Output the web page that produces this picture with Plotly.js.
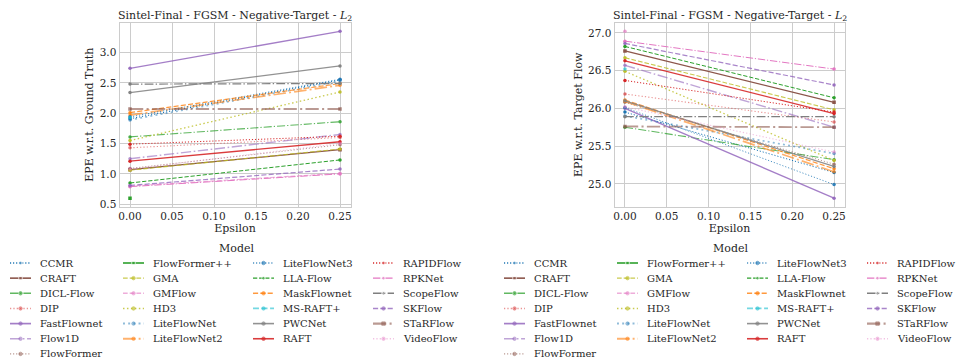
<!DOCTYPE html>
<html><head><meta charset="utf-8">
<script src="https://cdn.plot.ly/plotly-3.0.1.min.js"></script>
<style>body{margin:0;background:#fff}#chart{width:956px;height:360px}</style>
</head><body><div id="chart"></div>
<script>
// ---------------- data ----------------
const epsilon = [0, 0.25];
const models = ["CCMR","CRAFT","DICL-Flow","DIP","FastFlownet","Flow1D","FlowFormer",
  "FlowFormer++","GMA","GMFlow","HD3","LiteFlowNet","LiteFlowNet2",
  "LiteFlowNet3","LLA-Flow","MaskFlownet","MS-RAFT+","PWCNet","RAFT",
  "RAPIDFlow","RPKNet","ScopeFlow","SKFlow","STaRFlow","VideoFlow"];
// EPE w.r.t. ground truth
const gtAtEps0  = [1.91,1.07,1.61,1.43,2.74,1.25,1.09,0.60,1.06,0.80,1.55,1.89,1.97,1.94,0.85,2.01,1.93,2.34,1.21,1.49,0.79,2.48,0.81,2.07,1.08];
const gtAtEps25 = [2.55,1.40,1.86,1.60,3.35,1.65,1.48,null,1.41,1.01,2.35,2.53,2.46,2.56,1.23,2.49,null,2.78,1.53,1.62,1.00,2.49,1.08,2.07,1.50];
// EPE w.r.t. target flow
const tfAtEps0  = [25.95,26.76,25.75,26.19,26.00,26.57,26.08,null,26.67,27.02,26.49,25.90,26.09,26.01,26.82,26.11,26.52,26.10,26.63,26.37,26.89,25.89,26.86,25.76,26.02];
const tfAtEps25 = [25.15,26.08,25.32,25.82,24.81,25.75,25.26,null,25.98,null,25.31,25.40,25.16,24.99,26.14,25.20,null,25.23,25.93,25.95,26.52,25.89,26.31,25.75,25.42];
const xTicks = [0, 0.05, 0.10, 0.15, 0.20, 0.25];
const xTickLabels = ["0.00","0.05","0.10","0.15","0.20","0.25"];

// ---------------- styles ----------------
const C = {blue:'#1f77b4',orange:'#ff7f0e',green:'#2ca02c',red:'#d62728',purple:'#9467bd',
  brown:'#8c564b',pink:'#e377c2',gray:'#7f7f7f',olive:'#bcbd22',cyan:'#17becf'};
// [color, dash, width, alpha, symbol]
const styleTable = {
  "CCMR":[C.blue,'dot',1,1,'circle'],
  "CRAFT":[C.brown,'solid',1.3,1,'square'],
  "DICL-Flow":[C.green,'dashdot',1.1,0.75,'circle'],
  "DIP":[C.red,'dot',1.1,0.5,'circle'],
  "FastFlownet":[C.purple,'solid',1.4,0.85,'circle'],
  "Flow1D":[C.purple,'dashdot',1.4,0.6,'circle'],
  "FlowFormer":[C.brown,'dot',1,0.6,'circle'],
  "FlowFormer++":[C.green,'solid',1.3,1,'square'],
  "GMA":[C.olive,'dash',1.1,0.8,'circle'],
  "GMFlow":[C.pink,'dash',1.1,0.6,'circle'],
  "HD3":[C.olive,'dot',1.3,0.8,'circle'],
  "LiteFlowNet":[C.blue,'dot',1.7,0.5,'circle'],
  "LiteFlowNet2":[C.orange,'dashdot',1.7,0.6,'circle'],
  "LiteFlowNet3":[C.blue,'dot',1,0.8,'circle'],
  "LLA-Flow":[C.green,'dash',1,1,'circle'],
  "MaskFlownet":[C.orange,'dash',1.2,0.8,'circle'],
  "MS-RAFT+":[C.cyan,'dash',1.4,0.6,'circle'],
  "PWCNet":[C.gray,'solid',1.3,0.85,'circle'],
  "RAFT":[C.red,'solid',1.3,0.9,'circle'],
  "RAPIDFlow":[C.red,'dot',1,1,'circle'],
  "RPKNet":[C.pink,'dashdot',1,1,'circle'],
  "ScopeFlow":[C.gray,'dashdot',1.2,1,'circle'],
  "SKFlow":[C.purple,'dash',1.2,0.8,'circle'],
  "STaRFlow":[C.brown,'dashdot',1.8,0.6,'square'],
  "VideoFlow":[C.pink,'dot',1.1,0.45,'circle']
};
function rgba(hex,a){const n=parseInt(hex.slice(1),16);return `rgba(${n>>16},${(n>>8)&255},${n&255},${a})`;}
function dashFor(kind,w){
  if(kind==='solid') return 'solid';
  const pats={dot:[1,1.65],dash:[3.7,1.6],dashdot:[6.4,1.6,1,1.6]};
  const s=Math.max(w,1)*1.15;
  return pats[kind].map(v=>(v*s).toFixed(2)+'px').join(',');
}
function padRange(arrs){
  const v=[].concat(...arrs).filter(d=>d!==null);
  const lo=Math.min(...v),hi=Math.max(...v),m=(hi-lo)*0.05;return [lo-m,hi+m];
}

const W=956,H=360;
const FONT='DejaVu Serif', TXT='#262626';
const traces=[];
models.forEach((m,i)=>{
  const [col,dash,w,a,sym]=styleTable[m];
  const base={mode:'lines+markers',name:m,showlegend:false,hoverinfo:'skip',
    line:{color:rgba(col,a),width:w,dash:dashFor(dash,w)},
    marker:{size:3.5,symbol:sym,color:rgba(col,Math.min(1,a+0.1))}};
  traces.push(Object.assign({},base,{x:epsilon,y:[gtAtEps0[i],gtAtEps25[i]],xaxis:'x',yaxis:'y'}));
  traces.push(Object.assign({},base,{x:epsilon,y:[tfAtEps0[i],tfAtEps25[i]],xaxis:'x2',yaxis:'y2'}));
});

// ---------------- legend (drawn on a hidden pixel axis) ----------------
const annotations=[];
const legCols=[10,123,253,373], legOffsets=[0,494], rowTop=263, rowPitch=15.15;
const perCol=[7,6,6,6];
legOffsets.forEach(off=>{
  let idx=0;
  perCol.forEach((n,c)=>{
    for(let r=0;r<n;r++,idx++){
      const m=models[idx];const [col,dash,w,a,sym]=styleTable[m];
      const x0=legCols[c]+off, y=rowTop+r*rowPitch;
      traces.push({x:[x0,x0+10.5,x0+21],y:[y,y,y],xaxis:'x3',yaxis:'y3',mode:'lines+markers',
        showlegend:false,hoverinfo:'skip',
        line:{color:rgba(col,a),width:w+0.3,dash:dashFor(dash,w)},
        marker:{size:[0,3.5,0],symbol:sym,color:rgba(col,Math.min(1,a+0.1))}});
      annotations.push({xref:'x3',yref:'y3',x:x0+28,y:y,text:m,showarrow:false,
        xanchor:'left',yanchor:'middle',font:{family:FONT,size:10,color:TXT}});
    }
  });
  annotations.push({xref:'x3',yref:'y3',x:236+off,y:248,text:'Model',showarrow:false,
    xanchor:'center',yanchor:'middle',font:{family:FONT,size:11,color:TXT}});
});
// subplot titles
[[119.5,350.5],[614.5,844.5]].forEach(([a,b])=>{
  annotations.push({xref:'x3',yref:'y3',x:(a+b)/2,y:15.5,
    text:'Sintel-Final - FGSM - Negative-Target - <i>L</i><sub>2</sub>',showarrow:false,
    xanchor:'center',yanchor:'middle',font:{family:FONT,size:11,color:TXT}});
});

const plotTop=23,plotBottom=206.5;
const yDom=[(H-plotBottom)/H,(H-plotTop)/H];
const axBase={showgrid:true,gridcolor:'#cccccc',gridwidth:1,showline:true,linecolor:'#cccccc',
  linewidth:1,mirror:true,ticks:'',ticklen:2,zeroline:false,automargin:false,
  tickfont:{family:FONT,size:10.5,color:TXT}};
const xRange=[-0.0125,0.2625];
const layout={
  width:W,height:H,margin:{l:0,r:0,t:0,b:0},paper_bgcolor:'#ffffff',plot_bgcolor:'rgba(0,0,0,0)',
  showlegend:false,
  xaxis:Object.assign({},axBase,{domain:[119.5/W,350.5/W],range:xRange,tickvals:xTicks,ticktext:xTickLabels,anchor:'y',
    title:{text:'Epsilon',font:{family:FONT,size:11,color:TXT},standoff:1}}),
  yaxis:Object.assign({},axBase,{domain:yDom,range:padRange([gtAtEps0,gtAtEps25]),dtick:0.5,tick0:0,tickformat:'.1f',anchor:'x',
    title:{text:'EPE w.r.t. Ground Truth',font:{family:FONT,size:11,color:TXT},standoff:3}}),
  xaxis2:Object.assign({},axBase,{domain:[614.5/W,844.5/W],range:xRange,tickvals:xTicks,ticktext:xTickLabels,anchor:'y2',
    title:{text:'Epsilon',font:{family:FONT,size:11,color:TXT},standoff:1}}),
  yaxis2:Object.assign({},axBase,{domain:yDom,range:padRange([tfAtEps0,tfAtEps25]),dtick:0.5,tick0:0,tickformat:'.1f',anchor:'x2',
    title:{text:'EPE w.r.t. Target Flow',font:{family:FONT,size:11,color:TXT},standoff:3}}),
  xaxis3:{domain:[0,1],range:[0,W],visible:false,fixedrange:true,anchor:'y3',showgrid:false,zeroline:false},
  yaxis3:{domain:[0,1],range:[H,0],visible:false,fixedrange:true,anchor:'x3',showgrid:false,zeroline:false},
  annotations:annotations
};
Plotly.newPlot('chart',traces,layout,{displayModeBar:false,staticPlot:true});
</script></body></html>
